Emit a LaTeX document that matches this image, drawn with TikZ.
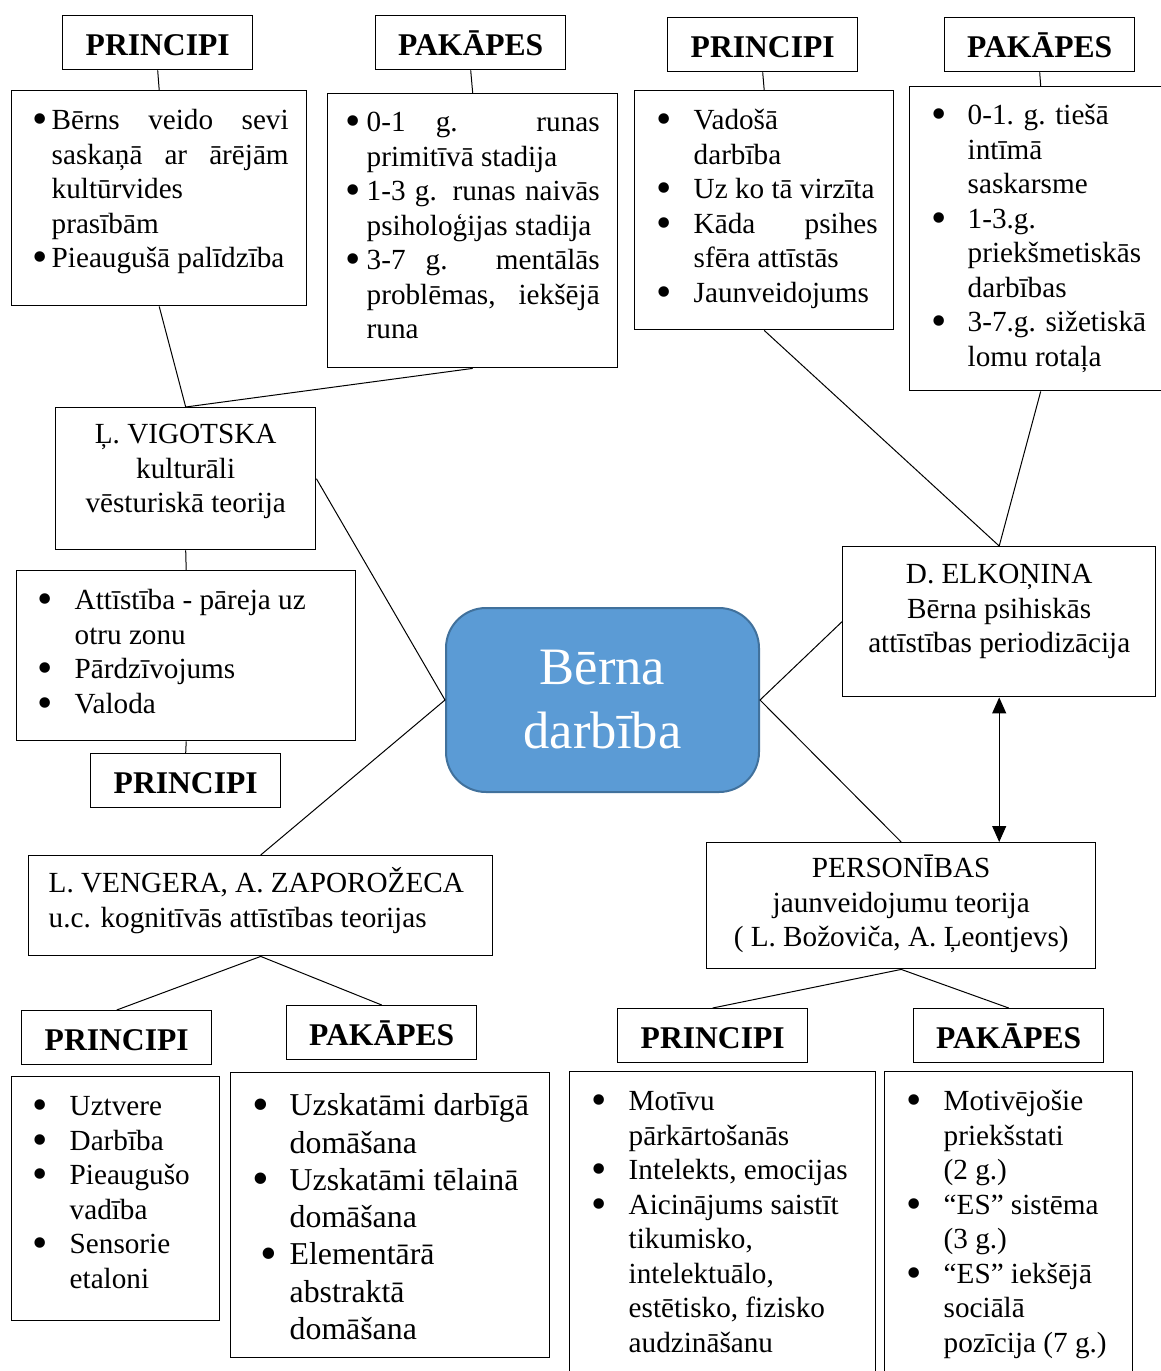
\documentclass[tikz,border=0pt]{standalone}
\usepackage{fontspec}
\setmainfont{Liberation Serif}
\usetikzlibrary{arrows.meta,calc}

\definecolor{coreblue}{HTML}{5B9BD5}
\definecolor{coreedge}{HTML}{41719C}

\newcommand{\txtfont}{\fontsize{14.6pt}{17.25pt}\selectfont}
\newcommand{\bigfont}{\fontsize{15.9pt}{18.65pt}\selectfont}
\newcommand{\headfont}{\fontsize{15.8pt}{18pt}\selectfont\bfseries}
\newcommand{\corefont}{\fontsize{26.3pt}{32pt}\selectfont}

\newlength{\bulx}\newlength{\txtx}
\newcommand{\bdot}{\raisebox{-0.14em}{\scalebox{1.5}{•}}}
\newcommand{\bul}[1][\bulx]{\par\noindent\hangindent=\txtx\hangafter=1\hspace*{#1}\makebox[\dimexpr\txtx-#1\relax][l]{\bdot}\strut}
\newcommand{\tbox}[4]{\begin{minipage}[t][#2][t]{#1}\vspace*{\dimexpr#3-\ht\strutbox\relax}#4\par\end{minipage}}
\newcommand{\blist}[6]{\tbox{#1}{#2}{#3}{\hyphenpenalty=10000 \exhyphenpenalty=10000 \tolerance=10000 \setlength{\bulx}{#4}\setlength{\txtx}{#5}#6}}

\begin{document}
\begin{tikzpicture}[x=0.5pt,y=-0.5pt,
  head/.style={draw, line width=0.7pt, anchor=north west, font=\headfont, inner sep=0pt, minimum width=95pt, text height=20pt, text depth=7pt},
  lbox/.style={draw, line width=0.7pt, anchor=north west, inner sep=0pt, font=\txtfont},
  core/.style={draw=coreedge, fill=coreblue, line width=1pt, rounded corners=20pt, minimum width=156.5pt, minimum height=92pt, text=white, font=\corefont, align=center},
  link/.style={line width=0.5pt}]
	\useasboundingbox (0,0) rectangle (1161,1371);
	\clip (0,0) rectangle (1161,1371);
	\node[core] (core) at (602.5,700) {Bērna\\darbība};
	\node[head] (vprH) at (62,15) {PRINCIPI};
	\node[head] (vpkH) at (375,15) {PAKĀPES};
	\node[head] (eprH) at (667,17) {PRINCIPI};
	\node[head] (epkH) at (944,17) {PAKĀPES};
	\node[lbox] (vpr) at (11,90) {\blist{147.5pt}{107.5pt}{19.5pt}{10.5pt}{20pt}{\rightskip=9pt
		\bul Bērns veido sevi\linebreak saskaņā ar ārējām\linebreak kultūrvides\newline prasībām
		\bul Pieaugušā palīdzība}};
	\node[lbox] (vpk) at (327,93) {\blist{145pt}{137pt}{19pt}{9pt}{19.5pt}{\rightskip=9pt
		\bul 0-1 g. runas\linebreak primitīvā stadija
		\bul 1-3 g. runas naivās\linebreak psiholoģijas stadija
		\bul 3-7 g. mentālās\linebreak problēmas, iekšējā\linebreak runa}};
	\node[lbox] (epr) at (634,90) {\blist{129.5pt}{119.5pt}{19.5pt}{11pt}{29.5pt}{\rightskip=8pt
		\bul Vadošā\newline darbība
		\bul Uz ko tā virzīta
		\bul Kāda psihes\linebreak sfēra attīstās
		\bul Jaunveidojums}};
	\node[lbox] (epk) at (909,86) {\blist{131pt}{152pt}{19pt}{11pt}{29pt}{\raggedright
		\bul 0-1. g. tiešā\newline intīmā\newline saskarsme
		\bul 1-3.g.\newline priekšmetiskās\newline darbības
		\bul 3-7.g. sižetiskā\newline lomu rotaļa}};
	\node[lbox] (vig) at (55,407) {\tbox{130pt}{71pt}{18pt}{\centering\strut Ļ. VIGOTSKA\\ kulturāli\\ vēsturiskā teorija}};
	\node[lbox] (vlist) at (16,570) {\blist{169.5pt}{85pt}{19.5pt}{10.5pt}{29pt}{\raggedright
		\bul Attīstība - pāreja uz\newline otru zonu
		\bul Pārdzīvojums
		\bul Valoda}};
	\node[head] (vlistH) at (90,753) {PRINCIPI};
	\node[lbox] (elk) at (842,546) {\tbox{156.5pt}{75pt}{18.5pt}{\centering\strut D. ELKOŅINA\\ Bērna psihiskās\\ attīstības periodizācija}};
	\node[lbox] (pers) at (706,842) {\tbox{194.5pt}{63pt}{17.5pt}{\centering\strut PERSONĪBAS\\ jaunveidojumu teorija\\ ( L. Božoviča, A. Ļeontjevs)}};
	\node[lbox] (veng) at (28,855) {\tbox{232pt}{50pt}{18pt}{\leftskip=10pt\strut L. VENGERA, A. ZAPOROŽECA\\ u.c. kognitīvās attīstības teorijas}};
	\node[head] (kprH) at (21,1010) {PRINCIPI};
	\node[head] (kpkH) at (286,1005) {PAKĀPES};
	\node[head] (pprH) at (617,1008) {PRINCIPI};
	\node[head] (ppkH) at (913,1008) {PAKĀPES};
	\node[lbox] (kpr) at (11,1076) {\blist{104pt}{122pt}{19.5pt}{10.5pt}{29pt}{\raggedright
		\bul Uztvere
		\bul Darbība
		\bul Pieaugušo\newline vadība
		\bul Sensorie\newline etaloni}};
	\node[lbox, font=\bigfont] (kpk) at (230,1072) {\blist{159.5pt}{142.5pt}{21.5pt}{11pt}{29.5pt}{\raggedright
		\bul Uzskatāmi darbīgā\newline domāšana
		\bul Uzskatāmi tēlainā\newline domāšana
		\bul[15pt]Elementārā\newline abstraktā\newline domāšana}};
	\node[lbox] (ppr) at (569,1071) {\blist{153pt}{160pt}{19.5pt}{11pt}{29.5pt}{\raggedright
		\bul Motīvu\newline pārkārtošanās
		\bul Intelekts, emocijas
		\bul Aicinājums saistīt\newline tikumisko,\newline intelektuālo,\newline estētisko, fizisko\newline audzināšanu}};
	\node[lbox] (ppk) at (884,1071) {\blist{124pt}{160pt}{19.5pt}{11pt}{29.5pt}{\raggedright
		\bul Motivējošie\newline priekšstati\newline (2 g.)
		\bul “ES” sistēma\newline (3 g.)
		\bul “ES” iekšējā\newline sociālā\newline pozīcija (7 g.)}};
	\draw[link] (vprH.south) -- (vpr.north);
	\draw[link] (vpkH.south) -- (vpk.north);
	\draw[link] (eprH.south) -- (epr.north);
	\draw[link] (epkH.south) -- (epk.north);
	\draw[link] (vpr.south) -- (vig.north) -- (vpk.south);
	\draw[link] (epr.south) -- (elk.north) -- (epk.south);
	\draw[link] (vig.south) -- (vlist.north);
	\draw[link] (vlist.south) -- (vlistH.north);
	\draw[link] (vig.east) -- (core.west) -- (veng.north);
	\draw[link] (elk.west) -- (core.east) -- (pers.north);
	\draw[link, {Triangle[length=8pt,width=7pt]}-{Triangle[length=8pt,width=7pt]}] (elk.south) -- (elk.south |- pers.north);
	\draw[link] (kprH.north) -- (veng.south) -- (kpkH.north);
	\draw[link] (pprH.north) -- (pers.south) -- (ppkH.north);
\end{tikzpicture}
\end{document}
